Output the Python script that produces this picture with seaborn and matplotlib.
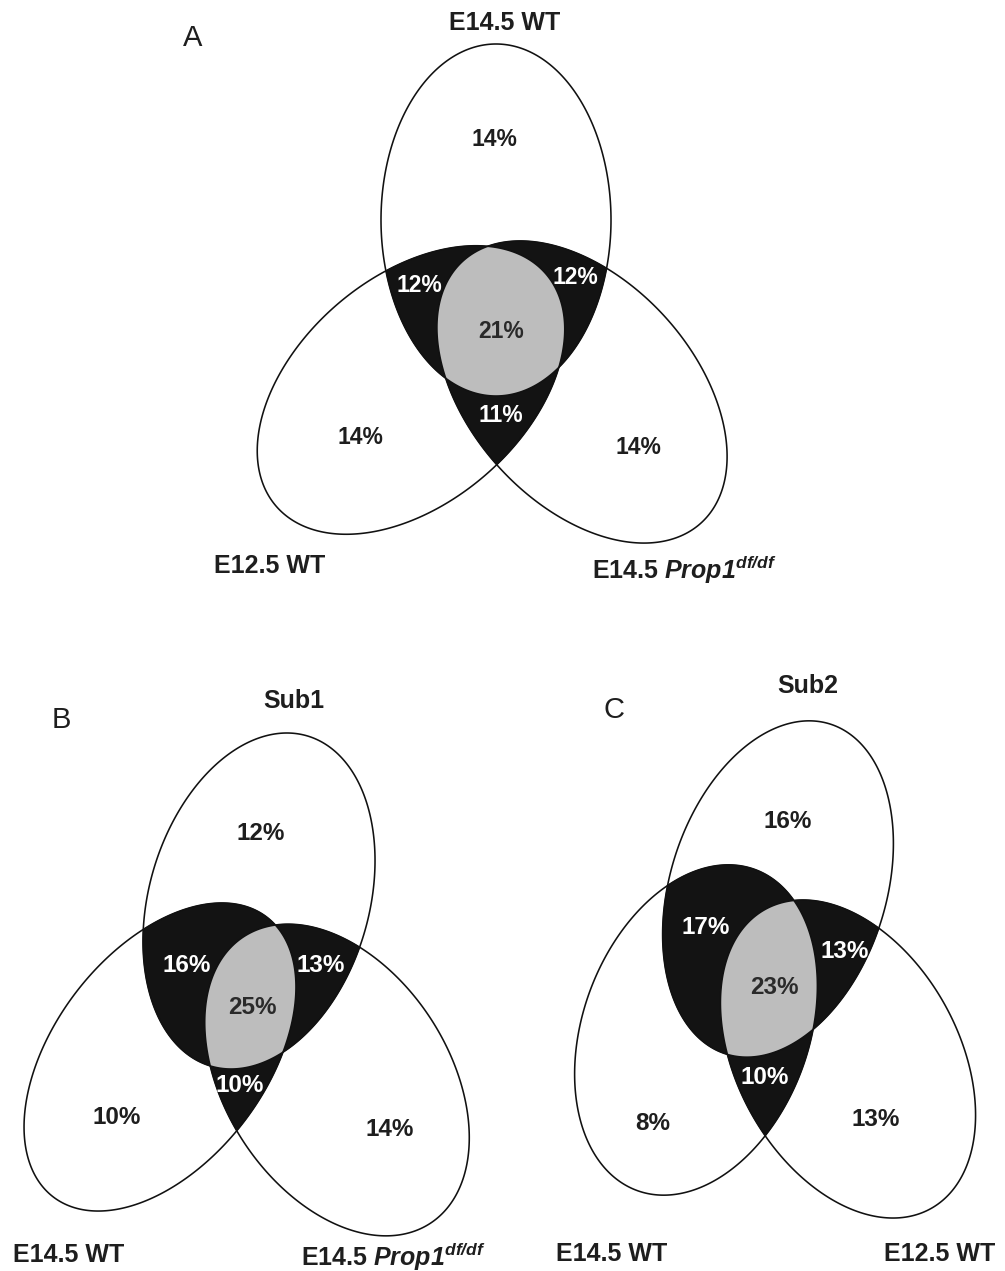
import numpy as np
import matplotlib
matplotlib.use("Agg")
import matplotlib.pyplot as plt
from matplotlib.patches import Polygon
from matplotlib.path import Path
import seaborn as sns

# --- data ---
regions = ["T", "L", "R", "TL", "TR", "LR", "TLR"]
pct_a = [14, 14, 14, 12, 12, 11, 21]
pct_b = [12, 10, 14, 16, 13, 10, 25]
pct_c = [16, 8, 13, 17, 13, 10, 23]
labels_a = ["E14.5 WT", "E12.5 WT", r"E14.5 $\mathbfit{Prop1}^{\mathbfit{df/df}}$"]
labels_b = ["Sub1", "E14.5 WT", r"E14.5 $\mathbfit{Prop1}^{\mathbfit{df/df}}$"]
labels_c = ["Sub2", "E14.5 WT", "E12.5 WT"]
panel_letters = ["A", "B", "C"]

# --- layout (pixel coords, y down): cx, cy, semi-major, semi-minor, angle ---
ell_a = {"T": (496, 220, 176, 115, 90), "L": (411, 390, 178, 113, 40.7),
         "R": (582, 392, 177, 112, 132.3)}
ell_b = {"T": (259, 901, 172, 110, 73.8), "L": (160, 1057, 176, 106, 52.7),
         "R": (337, 1080, 171, 112, 123)}
ell_c = {"T": (778, 889, 173, 108, 72.5), "L": (696, 1030, 171, 113, 69.8),
         "R": (848, 1059, 171, 111, 118.9)}

# label anchor positions for regions in order of `regions`
pos_a = [(494, 140), (360, 438), (638, 448), (419, 285), (575, 277), (501, 415), (501, 332)]
pos_b = [(261, 833), (117, 1117), (390, 1130), (187, 965), (321, 965), (240, 1085), (252, 1008)]
pos_c = [(788, 822), (653, 1123), (876, 1120), (706, 928), (845, 952), (765, 1077), (774, 987)]

set_pos_a = [((505, 23), "center"), ((270, 566), "center"), ((592, 570), "left")]
set_pos_b = [((294, 701), "center"), ((69, 1255), "center"), ((301, 1257), "left")]
set_pos_c = [((808, 686), "center"), ((612, 1254), "center"), ((940, 1254), "center")]
letter_pos = [(193, 38), (61, 720), (614, 710)]

BLACK = "#131313"
GRAY = "#bdbdbd"


def ellipse_pts(cx, cy, a, b, ang, n=900):
    t = np.linspace(0, 2 * np.pi, n, endpoint=False)
    phi = np.deg2rad(ang)
    x = cx + a * np.cos(t) * np.cos(phi) - b * np.sin(t) * np.sin(phi)
    y = cy - (a * np.cos(t) * np.sin(phi) + b * np.sin(t) * np.cos(phi))
    return np.column_stack([x, y])


def overlap(keys, ell):
    paths = {k: Path(ellipse_pts(*ell[k])) for k in keys}
    pts = []
    for k in keys:
        p = ellipse_pts(*ell[k])
        mask = np.ones(len(p), bool)
        for o in keys:
            if o != k:
                mask &= paths[o].contains_points(p)
        pts.append(p[mask])
    pts = np.vstack(pts)
    c = pts.mean(axis=0)
    order = np.argsort(np.arctan2(pts[:, 1] - c[1], pts[:, 0] - c[0]))
    return pts[order]


sns.set_theme(style="white")
plt.rcParams["font.family"] = ["Liberation Sans", "DejaVu Sans"]
plt.rcParams["mathtext.fontset"] = "custom"
plt.rcParams["mathtext.bfit"] = "Liberation Sans:italic:bold"
plt.rcParams["mathtext.rm"] = "Liberation Sans:bold"

fig = plt.figure(figsize=(10.05, 12.71), dpi=100)
ax = fig.add_axes([0, 0, 1, 1])
ax.set_xlim(0, 1005)
ax.set_ylim(1271, 0)
ax.set_axis_off()

panels = [(ell_a, pct_a, pos_a, labels_a, set_pos_a, 16.5),
          (ell_b, pct_b, pos_b, labels_b, set_pos_b, 17.5),
          (ell_c, pct_c, pos_c, labels_c, set_pos_c, 17.5)]

for i, (ell, pcts, pos, labels, set_pos, fs) in enumerate(panels):
    for pair in [("T", "L"), ("T", "R"), ("L", "R")]:
        ax.add_patch(Polygon(overlap(pair, ell), closed=True, facecolor=BLACK,
                             edgecolor=BLACK, lw=0.6, zorder=1))
    ax.add_patch(Polygon(overlap(("T", "L", "R"), ell), closed=True, facecolor=GRAY,
                         edgecolor="none", zorder=2))
    for k in ["T", "L", "R"]:
        ax.add_patch(Polygon(ellipse_pts(*ell[k]), closed=True, fill=False,
                             edgecolor="#111111", lw=1.15, zorder=3))

    for reg, val, (x, y) in zip(regions, pcts, pos):
        if reg == "TLR":
            col = "#2a2a2a"
        elif len(reg) == 2:
            col = "white"
        else:
            col = "#1e1e1e"
        ax.text(x, y, f"{val}%", ha="center", va="center", fontsize=fs,
                fontweight="bold", color=col, zorder=4)

    for lab, ((x, y), ha) in zip(labels, set_pos):
        ax.text(x, y, lab, ha=ha, va="center", fontsize=18, fontweight="bold",
                color="#1e1e1e", zorder=4)

    lx, ly = letter_pos[i]
    ax.text(lx, ly, panel_letters[i], ha="center", va="center", fontsize=21,
            color="#1e1e1e")

fig.savefig("out.png", dpi=100, facecolor="white")
